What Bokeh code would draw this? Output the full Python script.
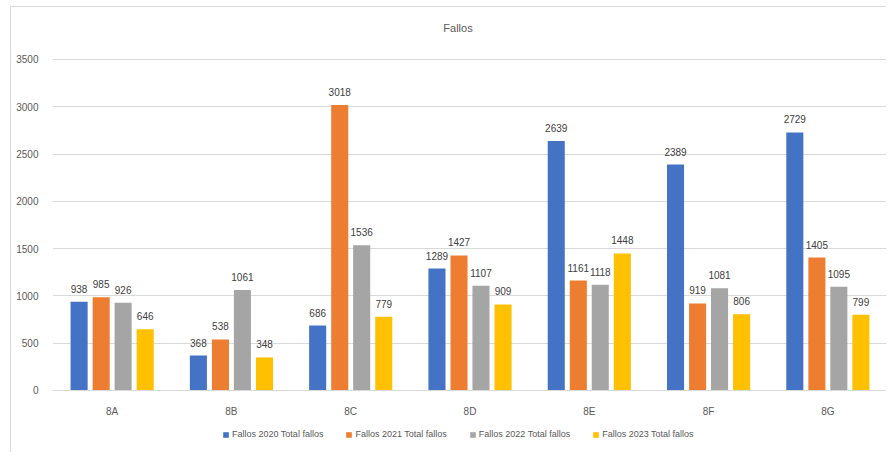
from bokeh.plotting import figure
from bokeh.models import ColumnDataSource, FactorRange, Range1d, LabelSet, Legend, LegendItem, FixedTicker
from bokeh.core.properties import value
from bokeh.transform import dodge
from bokeh.embed import file_html
from bokeh.resources import INLINE

title_text = "Fallos"
categories = ["8A", "8B", "8C", "8D", "8E", "8F", "8G"]
series_names = ["Fallos 2020 Total fallos", "Fallos 2021 Total fallos",
                "Fallos 2022 Total fallos", "Fallos 2023 Total fallos"]
fallos_2020 = [938, 368, 686, 1289, 2639, 2389, 2729]
fallos_2021 = [985, 538, 3018, 1427, 1161, 919, 1405]
fallos_2022 = [926, 1061, 1536, 1107, 1118, 1081, 1095]
fallos_2023 = [646, 348, 779, 909, 1448, 806, 799]
y_ticks = [0, 500, 1000, 1500, 2000, 2500, 3000, 3500]
colors = ["#4472C4", "#ED7D31", "#A5A5A5", "#FFC000"]

FONT = "Liberation Sans"
series = [fallos_2020, fallos_2021, fallos_2022, fallos_2023]
data = {"cat": categories}
for i, s in enumerate(series):
    data[f"s{i}"] = s
    data[f"t{i}"] = [str(v) for v in s]
src = ColumnDataSource(data)

# the frame covers the whole card; gridlines only at the real ticks
p = figure(width=876, height=446, x_range=FactorRange(*categories, range_padding=0),
           y_range=Range1d(-668, 4050), output_backend="svg", toolbar_location=None,
           min_border_left=41, min_border_right=0, min_border_top=0, min_border_bottom=0)
p.styles = {"border-top": "1px solid #D9D9D9", "border-left": "1px solid #D9D9D9",
            "margin-left": "10px", "margin-top": "6px"}

title_src = ColumnDataSource(dict(x=[categories[3]], y=[y_ticks[-1]], t=[title_text]))
title = LabelSet(x="x", y="y", text="t", source=title_src, x_offset=-12, y_offset=31,
                 text_align="center", text_baseline="middle", text_font=value(FONT),
                 text_font_size=value("11px"), text_color=value("#595959"))
p.add_layout(title)

offsets = [-0.277, -0.092, 0.092, 0.277]
items = []
for i in range(4):
    r = p.vbar(x=dodge("cat", offsets[i], range=p.x_range), top=f"s{i}", bottom=0, width=0.143,
               source=src, fill_color=colors[i], line_color=None)
    items.append(LegendItem(label=series_names[i], renderers=[r]))
    lab = LabelSet(x=dodge("cat", offsets[i], range=p.x_range), y=f"s{i}", text=f"t{i}",
                   source=src, text_align="center", y_offset=9, text_font_size=value("10px"),
                   text_color=value("#404040"), text_font=value(FONT))
    p.add_layout(lab)

p.outline_line_color = None
p.xgrid.grid_line_color = None
p.ygrid.grid_line_color = "#D9D9D9"
p.yaxis.ticker = FixedTicker(ticks=y_ticks)
p.yaxis.axis_line_color = None
p.yaxis.major_tick_line_color = None
p.yaxis.minor_tick_line_color = None
p.yaxis.major_label_text_font = FONT
p.yaxis.major_label_text_font_size = "10px"
p.yaxis.major_label_text_color = "#595959"
p.yaxis.major_label_standoff = 8
p.xaxis.fixed_location = 0
p.xaxis.axis_line_color = "#D9D9D9"
p.xaxis.major_tick_line_color = None
p.xaxis.minor_tick_line_color = None
p.xaxis.major_label_text_font = FONT
p.xaxis.major_label_text_font_size = "10px"
p.xaxis.major_label_text_color = "#595959"
p.xaxis.major_label_standoff = 10

legend = Legend(items=items, orientation="horizontal", location=(170, 14),
                label_text_font=FONT, label_text_font_size="9px", label_text_color="#595959",
                glyph_width=7, glyph_height=7, label_standoff=3, spacing=22,
                border_line_color=None, background_fill_alpha=0, padding=4, margin=0)
p.add_layout(legend, "center")

open("out.html", "w").write(file_html(p, INLINE))
